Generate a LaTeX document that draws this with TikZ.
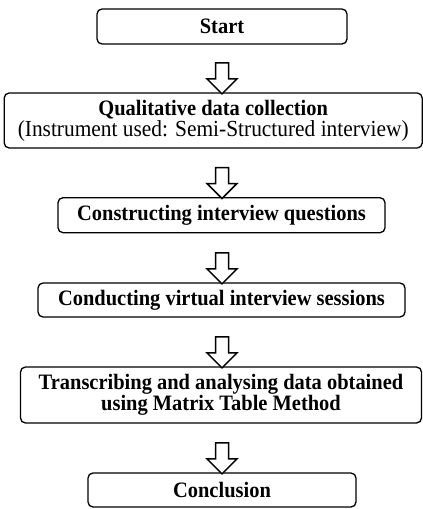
\documentclass[tikz,border=0pt]{standalone}
\usepackage{fontspec}
\setmainfont{Liberation Serif}[FakeStretch=0.93]
\usetikzlibrary{calc}
\begin{document}
\begin{tikzpicture}[x=1pt,y=-1pt,
  box/.style={draw=black, line width=1.3pt, rounded corners=5pt, fill=white,
    inner sep=0pt, align=center, font=\fontsize{22}{20}\selectfont\bfseries},
  blockarr/.style={draw=black, line width=1.5pt, fill=white, line join=miter}]
\useasboundingbox (0,0) rectangle (423,509);
\node[box, minimum width=250pt, minimum height=35pt] (start) at (222,26.5) {Start};
\node[box, minimum width=418pt, minimum height=55pt] (qual) at (213.2,120.5)
  {Qualitative data collection\\[1pt]{\mdseries\fontsize{23}{21}\selectfont (Instrument used: Semi-Structured interview)}};
\node[box, minimum width=327pt, minimum height=35pt] (cons) at (221.5,215.2) {Constructing interview questions};
\node[box, minimum width=367pt, minimum height=34pt] (cond) at (221.5,300) {Conducting virtual interview sessions};
\node[box, minimum width=401pt, minimum height=56pt] (trans) at (221,395)
  {Transcribing and analysing data obtained\\using Matrix Table Method};
\node[box, minimum width=268pt, minimum height=34pt] (concl) at (222,490) {Conclusion};
\foreach \a/\b in {start/qual, qual/cons, cons/cond, cond/trans, trans/concl}{
  \draw[blockarr] ($(start.south |- \b.north)+(0,1.5)$) -- ++(-15,-15) -- ++(8.5,0)
    -- ++(0,-16) -- ++(13,0) -- ++(0,16) -- ++(8.5,0) -- cycle;
}
\end{tikzpicture}
\end{document}
